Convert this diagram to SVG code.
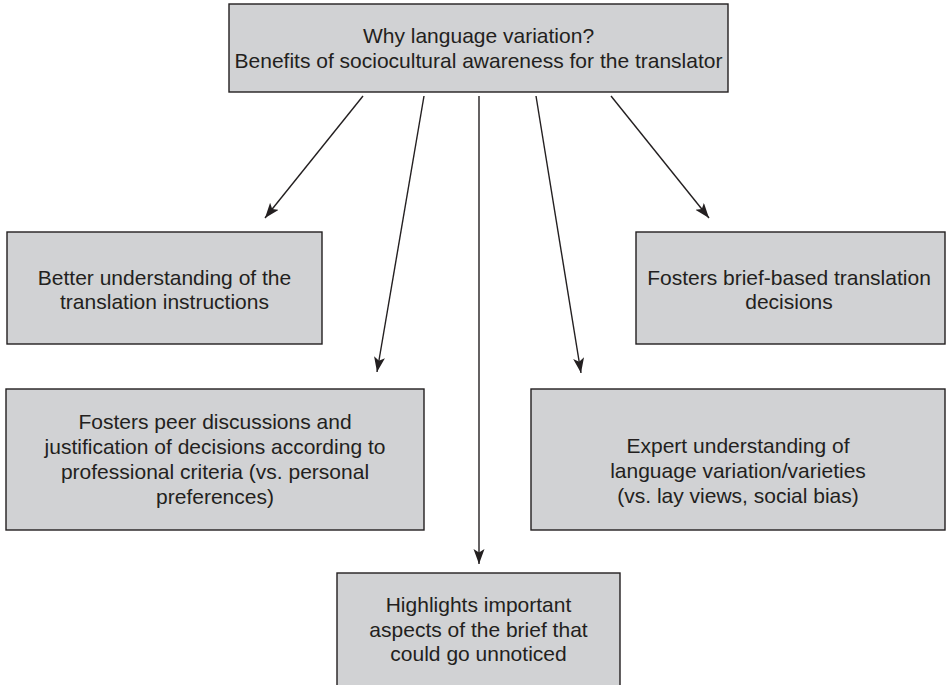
<svg xmlns="http://www.w3.org/2000/svg" width="946" height="685" viewBox="0 0 946 685">
  <style>
    .box { fill: #d1d2d4; stroke: #231f20; stroke-width: 1.4; }
    .lbl { font-family: "Liberation Sans", Arial, sans-serif; font-size: 21px; fill: #231f20; text-anchor: middle; }
    .conn { stroke: #231f20; stroke-width: 1.4; fill: none; marker-end: url(#arrow); }
  </style>
  <defs>
    <marker id="arrow" markerUnits="userSpaceOnUse" markerWidth="16" markerHeight="12" refX="15" refY="5.5" orient="auto">
      <path d="M0,0 L15,5.5 L0,11 L3.5,5.5 z" fill="#231f20"/>
    </marker>
  </defs>
  <rect width="946" height="685" fill="#ffffff"/>

  <g id="root">
    <rect class="box" x="229" y="4" width="499" height="88"/>
    <text class="lbl" x="478.5" y="43">Why language variation?</text>
    <text class="lbl" x="478.5" y="68">Benefits of sociocultural awareness for the translator</text>
  </g>

  <g id="instructions">
    <rect class="box" x="7" y="232" width="315" height="112"/>
    <text class="lbl" x="164.5" y="285">Better understanding of the</text>
    <text class="lbl" x="164.5" y="309">translation instructions</text>
  </g>

  <g id="brief-decisions">
    <rect class="box" x="636" y="232" width="309" height="112"/>
    <text class="lbl" x="789" y="285">Fosters brief-based translation</text>
    <text class="lbl" x="789" y="309">decisions</text>
  </g>

  <g id="peer-discussions">
    <rect class="box" x="6" y="389" width="418" height="141"/>
    <text class="lbl" x="215" y="429">Fosters peer discussions and</text>
    <text class="lbl" x="215" y="454">justification of decisions according to</text>
    <text class="lbl" x="215" y="479">professional criteria (vs. personal</text>
    <text class="lbl" x="215" y="504">preferences)</text>
  </g>

  <g id="expert-understanding">
    <rect class="box" x="531" y="389" width="414" height="141"/>
    <text class="lbl" x="738" y="453">Expert understanding of</text>
    <text class="lbl" x="738" y="478">language variation/varieties</text>
    <text class="lbl" x="738" y="503">(vs. lay views, social bias)</text>
  </g>

  <g id="highlights">
    <rect class="box" x="337" y="573" width="283" height="114"/>
    <text class="lbl" x="478.5" y="612">Highlights important</text>
    <text class="lbl" x="478.5" y="637">aspects of the brief that</text>
    <text class="lbl" x="478.5" y="661">could go unnoticed</text>
  </g>

  <g id="connectors">
    <line class="conn" x1="363" y1="96" x2="265" y2="218"/>
    <line class="conn" x1="424" y1="96" x2="377" y2="372"/>
    <line class="conn" x1="479" y1="96" x2="479" y2="564"/>
    <line class="conn" x1="536" y1="96" x2="581" y2="373"/>
    <line class="conn" x1="611" y1="96" x2="709" y2="218"/>
  </g>
</svg>
